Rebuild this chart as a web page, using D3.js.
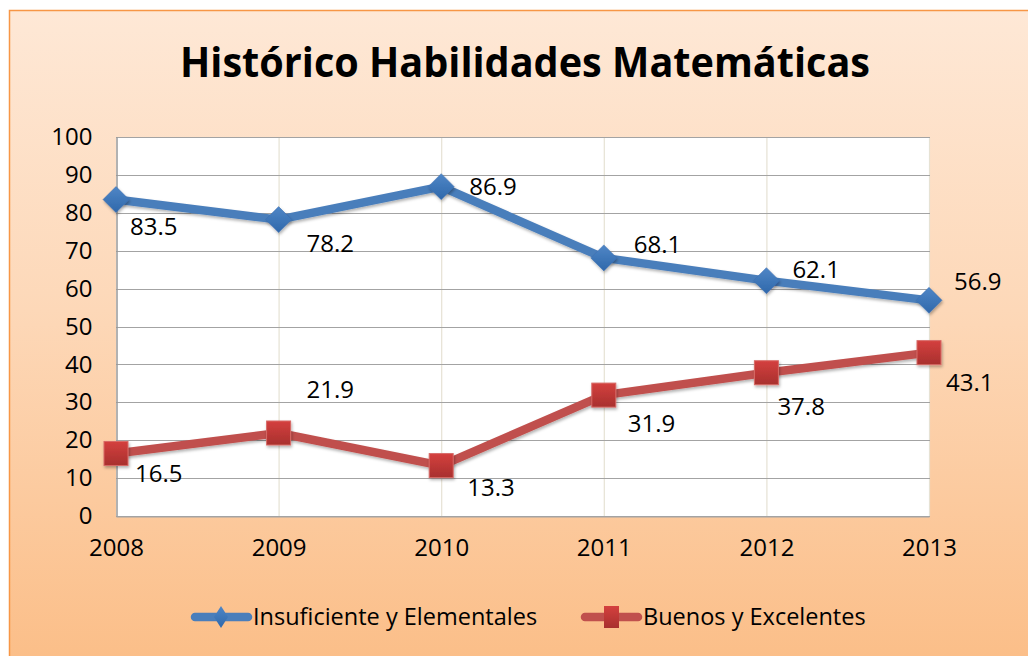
<!DOCTYPE html>
<html>
<head>
<meta charset="utf-8">
<script src="https://cdn.jsdelivr.net/npm/d3@7"></script>
<style>
  html, body { margin: 0; padding: 0; background: #fff; }
  svg { display: block; }
  text { font-family: "Open Sans", "Noto Sans", sans-serif; fill: #000; }
</style>
</head>
<body>
<div id="chart"></div>
<script>
// data
const years = ["2008", "2009", "2010", "2011", "2012", "2013"];
const insuficiente = [83.5, 78.2, 86.9, 68.1, 62.1, 56.9];
const buenos = [16.5, 21.9, 13.3, 31.9, 37.8, 43.1];
const yTicks = [0, 10, 20, 30, 40, 50, 60, 70, 80, 90, 100];
const seriesNames = ["Insuficiente y Elementales", "Buenos y Excelentes"];

// label offsets (left edge x, middle y) relative to each point, like Excel placed them
const labelOffsets = [
  [[14, 27], [28, 24], [28, 0], [30, -13], [26, -11], [25, -19]],
  [[19, 20], [28, -43], [26, 22], [24, 29], [11, 34], [17, 30]]
];

const width = 1028;
const height = 656;
const marginLeft = 116;
const marginRight = 99;
const marginTop = 137;
const marginBottom = 140;
const fontSize = "24px";

const svg = d3.select("#chart")
  .append("svg")
  .attr("width", width)
  .attr("height", height);

const defs = svg.append("defs");

const bg = defs.append("linearGradient")
  .attr("id", "bg")
  .attr("x1", 0).attr("y1", 0).attr("x2", 0).attr("y2", 1);
bg.append("stop").attr("offset", "0%").attr("stop-color", "#fee8d6");
bg.append("stop").attr("offset", "45%").attr("stop-color", "#fdd8b8");
bg.append("stop").attr("offset", "100%").attr("stop-color", "#fbbd86");

const blueGrad = defs.append("linearGradient")
  .attr("id", "blueMark")
  .attr("x1", 0).attr("y1", 0).attr("x2", 0).attr("y2", 1);
blueGrad.append("stop").attr("offset", "0%").attr("stop-color", "#4f86c6");
blueGrad.append("stop").attr("offset", "100%").attr("stop-color", "#2f68ab");

const redGrad = defs.append("linearGradient")
  .attr("id", "redMark")
  .attr("x1", 0).attr("y1", 0).attr("x2", 0).attr("y2", 1);
redGrad.append("stop").attr("offset", "0%").attr("stop-color", "#d4403e");
redGrad.append("stop").attr("offset", "100%").attr("stop-color", "#a8302e");

const shadow = defs.append("filter").attr("id", "shadow")
  .attr("x", "-50%").attr("y", "-50%").attr("width", "200%").attr("height", "200%");
shadow.append("feDropShadow")
  .attr("dx", 1).attr("dy", 2).attr("stdDeviation", 1.5)
  .attr("flood-color", "#000").attr("flood-opacity", 0.3);

// background + frame
svg.append("rect")
  .attr("x", 9.5).attr("y", 10.5)
  .attr("width", width + 10).attr("height", height + 10)
  .attr("fill", "url(#bg)")
  .attr("stroke", "#f79646")
  .attr("stroke-width", 1.5);

// title
svg.append("text")
  .attr("x", 525)
  .attr("y", 77)
  .attr("text-anchor", "middle")
  .style("font-size", "41px")
  .style("font-weight", "bold")
  .attr("textLength", 690)
  .attr("lengthAdjust", "spacingAndGlyphs")
  .text("Histórico Habilidades Matemáticas");

// scales
const xScale = d3.scalePoint()
  .domain(years)
  .range([marginLeft, width - marginRight]);

const yScale = d3.scaleLinear()
  .domain([0, 100])
  .range([height - marginBottom, marginTop]);

const plotRight = width - marginRight + 1;

// plot area
svg.append("rect")
  .attr("x", marginLeft)
  .attr("y", marginTop)
  .attr("width", plotRight - marginLeft)
  .attr("height", yScale(0) - yScale(100))
  .attr("fill", "#fff");

// vertical gridlines
svg.append("g")
  .selectAll("line")
  .data(years.slice(1))
  .join("line")
  .attr("x1", (d) => xScale(d) + 0.5)
  .attr("x2", (d) => xScale(d) + 0.5)
  .attr("y1", yScale(100))
  .attr("y2", yScale(0))
  .attr("stroke", "#e6e2d4")
  .attr("stroke-width", 1.2);

// horizontal gridlines
svg.append("g")
  .selectAll("line")
  .data(yTicks)
  .join("line")
  .attr("x1", marginLeft)
  .attr("x2", plotRight)
  .attr("y1", (d) => Math.round(yScale(d)) + 0.5)
  .attr("y2", (d) => Math.round(yScale(d)) + 0.5)
  .attr("stroke", "#a3a3a3")
  .attr("stroke-width", 1.2);

// axes
const yAxis = d3.axisLeft(yScale).tickValues(yTicks).tickSize(0).tickPadding(24);
const xAxis = d3.axisBottom(xScale).tickSize(0).tickPadding(22);

const gy = svg.append("g")
  .attr("transform", `translate(${marginLeft + 0.5}, 0)`)
  .call(yAxis);
gy.select(".domain").attr("stroke", "#999").attr("stroke-width", 1.5);
gy.selectAll("text").style("font-size", fontSize).style("font-family", "\"Open Sans\", sans-serif").attr("fill", "#000");

const gx = svg.append("g")
  .attr("transform", `translate(0, ${yScale(0) + 0.5})`)
  .call(xAxis);
gx.select(".domain").attr("stroke", "#a3a3a3").attr("stroke-width", 1.2);
gx.selectAll("text").style("font-size", fontSize).style("font-family", "\"Open Sans\", sans-serif").attr("fill", "#000");

// series
const series = [
  { name: seriesNames[0], values: insuficiente, color: "#4a7ebb", marker: "diamond", fill: "url(#blueMark)" },
  { name: seriesNames[1], values: buenos, color: "#c0504d", marker: "square", fill: "url(#redMark)" }
];

const line = d3.line()
  .x((d, i) => xScale(years[i]))
  .y((d) => yScale(d));

function drawMarker(g, type, x, y, fill, size) {
  const s = size / 2;
  if (type === "diamond") {
    g.append("path")
      .attr("d", `M${x},${y - s}L${x + s},${y}L${x},${y + s}L${x - s},${y}Z`)
      .attr("fill", fill)
      .attr("stroke", "#3a6db0")
      .attr("stroke-width", 0.5)
      .attr("filter", "url(#shadow)");
  } else {
    g.append("rect")
      .attr("x", x - s).attr("y", y - s)
      .attr("width", size).attr("height", size)
      .attr("fill", fill)
      .attr("stroke", "#d86a67")
      .attr("stroke-width", 1)
      .attr("filter", "url(#shadow)");
  }
}

series.forEach((s, si) => {
  const g = svg.append("g");
  g.append("path")
    .datum(s.values)
    .attr("d", line)
    .attr("fill", "none")
    .attr("stroke", s.color)
    .attr("stroke-width", 8.5)
    .attr("stroke-linejoin", "round")
    .attr("filter", "url(#shadow)");

  s.values.forEach((v, i) => {
    drawMarker(g, s.marker, xScale(years[i]), yScale(v), s.fill, s.marker === "diamond" ? 26 : 24);
  });

  g.selectAll("text.label")
    .data(s.values)
    .join("text")
    .attr("class", "label")
    .attr("x", (d, i) => xScale(years[i]) + labelOffsets[si][i][0])
    .attr("y", (d, i) => yScale(d) + labelOffsets[si][i][1])
    .attr("dy", "0.35em")
    .style("font-size", fontSize)
    .text((d) => d.toFixed(1));
});

// legend
const legend = svg.append("g");
const legendItems = [
  { x: 190, textX: 253 },
  { x: 580, textX: 643 }
];
series.forEach((s, i) => {
  const lx = legendItems[i].x;
  const ly = 617;
  legend.append("line")
    .attr("x1", lx + 5).attr("x2", lx + 58)
    .attr("y1", ly).attr("y2", ly)
    .attr("stroke", s.color)
    .attr("stroke-width", 8.5)
    .attr("stroke-linecap", "round");
  if (s.marker === "diamond") {
    legend.append("path")
      .attr("d", `M${lx + 31},${ly - 11}L${lx + 38},${ly}L${lx + 31},${ly + 11}L${lx + 24},${ly}Z`)
      .attr("fill", "url(#blueMark)");
  } else {
    legend.append("rect")
      .attr("x", lx + 24).attr("y", ly - 11)
      .attr("width", 15).attr("height", 22)
      .attr("fill", "url(#redMark)");
  }
  legend.append("text")
    .attr("x", legendItems[i].textX)
    .attr("y", ly)
    .attr("dy", "0.35em")
    .style("font-size", "23.5px")
    .text(s.name);
});
</script>
</body>
</html>
